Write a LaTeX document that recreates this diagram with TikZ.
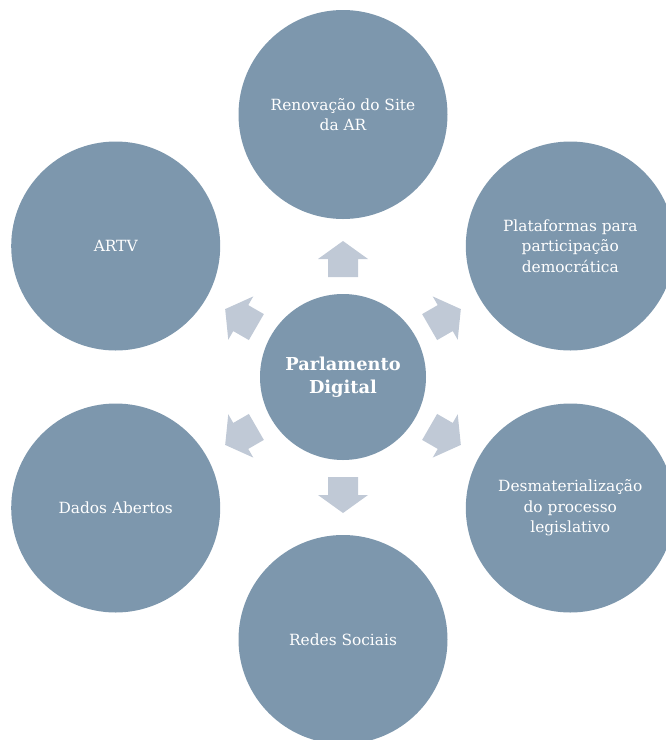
\documentclass[tikz,border=0pt]{standalone}
\usepackage{fontspec}
\setmainfont{DejaVu Serif}
\usetikzlibrary{calc}
\definecolor{circfill}{HTML}{7D97AD}
\definecolor{arrowfill}{HTML}{C0C9D6}
\tikzset{
  outer/.style={circle, fill=circfill, minimum size=209pt, inner sep=0pt, text=white, align=center, font=\fontsize{15.4}{20.5}\selectfont},
  hub/.style={circle, fill=circfill, minimum size=166pt, inner sep=0pt, text=white, align=center, font=\fontsize{17.8}{23}\selectfont\bfseries},
  blockarrow/.pic={\fill[arrowfill] (-18,-15) -- (0,-15) -- (0,-25) -- (18,0) -- (0,25) -- (0,15) -- (-18,15) -- cycle;}
}
\begin{document}
\begin{tikzpicture}[x=1pt,y=-1pt]
\useasboundingbox (0,0) rectangle (666,740);
\clip (0,0) rectangle (666,740);
\node[hub] (c) at (343,377) {Parlamento\\Digital};
\node[outer] (t) at (343,114.5) {Renovação do Site\\da AR};
\node[outer] (ur) at (570.3,246) {Plataformas para\\participação\\democrática};
\node[outer] (lr) at (570.3,508) {Desmaterialização\\do processo\\legislativo};
\node[outer] (b) at (343,639.5) {Redes Sociais};
\node[outer] (ll) at (115.7,508) {Dados Abertos};
\node[outer] (ul) at (115.7,246) {ARTV};
\pic[rotate=90] at ($(c.center)!118pt!(t.center)$) {blockarrow};
\pic[rotate=30] at ($(c.center)!118pt!(ur.center)$) {blockarrow};
\pic[rotate=-30] at ($(c.center)!118pt!(lr.center)$) {blockarrow};
\pic[rotate=-90] at ($(c.center)!118pt!(b.center)$) {blockarrow};
\pic[rotate=210] at ($(c.center)!118pt!(ll.center)$) {blockarrow};
\pic[rotate=150] at ($(c.center)!118pt!(ul.center)$) {blockarrow};
\end{tikzpicture}
\end{document}
